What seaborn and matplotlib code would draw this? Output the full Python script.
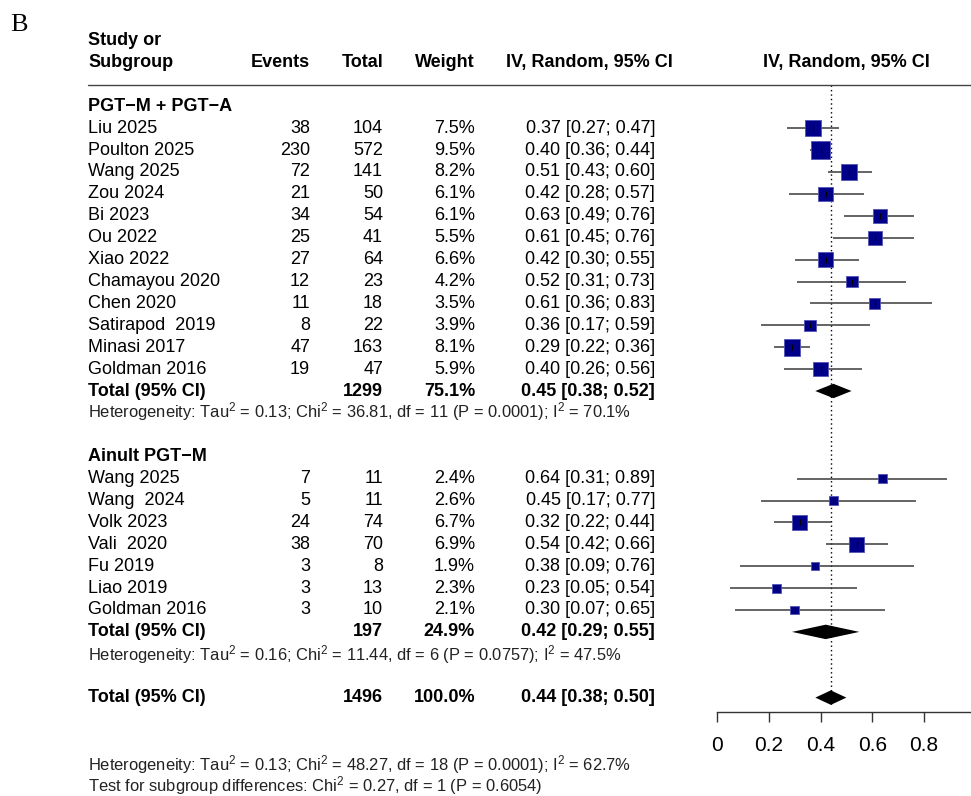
import numpy as np
import pandas as pd
import matplotlib
matplotlib.use("Agg")
import matplotlib.pyplot as plt
import matplotlib.transforms as mtransforms
from matplotlib.lines import Line2D
import seaborn as sns

# ---------------- data ----------------
g1_label = "PGT\u2212M + PGT\u2212A"
g1_study = ["Liu 2025", "Poulton 2025", "Wang 2025", "Zou 2024", "Bi 2023", "Ou 2022",
            "Xiao 2022", "Chamayou 2020", "Chen 2020", "Satirapod  2019", "Minasi 2017",
            "Goldman 2016"]
g1_events = [38, 230, 72, 21, 34, 25, 27, 12, 11, 8, 47, 19]
g1_total = [104, 572, 141, 50, 54, 41, 64, 23, 18, 22, 163, 47]
g1_weight = [7.5, 9.5, 8.2, 6.1, 6.1, 5.5, 6.6, 4.2, 3.5, 3.9, 8.1, 5.9]
g1_est = [0.37, 0.40, 0.51, 0.42, 0.63, 0.61, 0.42, 0.52, 0.61, 0.36, 0.29, 0.40]
g1_lo = [0.27, 0.36, 0.43, 0.28, 0.49, 0.45, 0.30, 0.31, 0.36, 0.17, 0.22, 0.26]
g1_hi = [0.47, 0.44, 0.60, 0.57, 0.76, 0.76, 0.55, 0.73, 0.83, 0.59, 0.36, 0.56]
g1_sum_total = 1299
g1_sum_weight = 75.1
g1_sum_est, g1_sum_lo, g1_sum_hi = 0.45, 0.38, 0.52
g1_het = "Heterogeneity: Tau$^2$ = 0.13; Chi$^2$ = 36.81, df = 11 (P = 0.0001); I$^2$ = 70.1%"

g2_label = "Ainult PGT\u2212M"
g2_study = ["Wang 2025", "Wang  2024", "Volk 2023", "Vali  2020", "Fu 2019", "Liao 2019",
            "Goldman 2016"]
g2_events = [7, 5, 24, 38, 3, 3, 3]
g2_total = [11, 11, 74, 70, 8, 13, 10]
g2_weight = [2.4, 2.6, 6.7, 6.9, 1.9, 2.3, 2.1]
g2_est = [0.64, 0.45, 0.32, 0.54, 0.38, 0.23, 0.30]
g2_lo = [0.31, 0.17, 0.22, 0.42, 0.09, 0.05, 0.07]
g2_hi = [0.89, 0.77, 0.44, 0.66, 0.76, 0.54, 0.65]
g2_sum_total = 197
g2_sum_weight = 24.9
g2_sum_est, g2_sum_lo, g2_sum_hi = 0.42, 0.29, 0.55
g2_het = "Heterogeneity: Tau$^2$ = 0.16; Chi$^2$ = 11.44, df = 6 (P = 0.0757); I$^2$ = 47.5%"

all_sum_total = 1496
all_sum_weight = 100.0
all_sum_est, all_sum_lo, all_sum_hi = 0.44, 0.38, 0.50
all_het = "Heterogeneity: Tau$^2$ = 0.13; Chi$^2$ = 48.27, df = 18 (P = 0.0001); I$^2$ = 62.7%"
subgroup_test = "Test for subgroup differences: Chi$^2$ = 0.27, df = 1 (P = 0.6054)"

x_ticks = [0, 0.2, 0.4, 0.6, 0.8]
x_ticklabels = ["0", "0.2", "0.4", "0.6", "0.8"]

# ---------------- layout rows ----------------
rows1 = list(range(1, 1 + len(g1_study)))
r_tot1 = rows1[-1] + 1
r_het1 = r_tot1 + 1
r_sub2 = r_het1 + 2
rows2 = list(range(r_sub2 + 1, r_sub2 + 1 + len(g2_study)))
r_tot2 = rows2[-1] + 1
r_het2 = r_tot2 + 1
r_all = r_het2 + 2

studies = pd.DataFrame({
    "study": g1_study + g2_study,
    "events": g1_events + g2_events,
    "total": g1_total + g2_total,
    "weight": g1_weight + g2_weight,
    "est": g1_est + g2_est,
    "lo": g1_lo + g2_lo,
    "hi": g1_hi + g2_hi,
    "row": rows1 + rows2,
})

summaries = pd.DataFrame({
    "total": [g1_sum_total, g2_sum_total, all_sum_total],
    "weight": [g1_sum_weight, g2_sum_weight, all_sum_weight],
    "est": [g1_sum_est, g2_sum_est, all_sum_est],
    "lo": [g1_sum_lo, g2_sum_lo, all_sum_lo],
    "hi": [g1_sum_hi, g2_sum_hi, all_sum_hi],
    "row": [r_tot1, r_tot2, r_all],
})

# ---------------- style ----------------
sns.set_theme(style="white")
plt.rcParams["font.family"] = ["Liberation Sans", "DejaVu Sans"]
plt.rcParams["mathtext.fontset"] = "custom"
plt.rcParams["mathtext.rm"] = "Liberation Sans"
plt.rcParams["mathtext.it"] = "Liberation Sans:italic"
plt.rcParams["mathtext.bf"] = "Liberation Sans:bold"

W, H = 971, 796
fig = plt.figure(figsize=(W / 100, H / 100), dpi=100)
fig.patch.set_facecolor("white")

row_px0, row_step = 106.3, 21.9
def px_to_row(p):
    return (p - row_px0) / row_step

ax_top_px, ax_bot_px = 85, 712
ax_left_px = 717
x_max = 0.98
px_per_unit = 258.75
ax = fig.add_axes([ax_left_px / W, 1 - ax_bot_px / H,
                   x_max * px_per_unit / W, (ax_bot_px - ax_top_px) / H])
ax.set_xlim(0, x_max)
ax.set_ylim(px_to_row(ax_bot_px), px_to_row(ax_top_px))
ax.set_facecolor("none")

# CI lines
ax.hlines(studies["row"], studies["lo"], studies["hi"], color="#3a3a3a", lw=1.1, zorder=2)
# squares
sns.scatterplot(data=studies, x="est", y="row", size="weight",
                sizes=(17.7 * min(studies["weight"]), 17.7 * max(studies["weight"])),
                size_norm=(min(studies["weight"]), max(studies["weight"])),
                marker="s", color="#000088", edgecolor="#5555b5", linewidth=0.6,
                legend=False, ax=ax, zorder=3)
# small tick at estimate
ax.scatter(studies["est"], studies["row"], marker="|", s=22, color="black",
           linewidths=0.8, zorder=4)

# diamonds
half_h = 0.33
for _, s in summaries.iterrows():
    ax.fill([s["lo"], s["est"], s["hi"], s["est"]],
            [s["row"], s["row"] - half_h, s["row"], s["row"] + half_h],
            color="black", lw=0, zorder=3)

# reference dotted line at overall estimate
ax.plot([all_sum_est, all_sum_est], [px_to_row(ax_top_px), r_all + 0.35],
        ls=(0, (1, 2.2)), color="black", lw=1.0, zorder=1)

# axis styling
sns.despine(ax=ax, left=True, top=True, right=True)
ax.spines["bottom"].set_color("#333333")
ax.spines["bottom"].set_linewidth(1.0)
ax.set_yticks([])
ax.set_xticks(x_ticks)
ax.set_xticklabels(x_ticklabels)
ax.tick_params(axis="x", direction="out", length=7.5, width=1.0, color="#333333",
               pad=10, labelsize=15, labelcolor="black", bottom=True)
ax.set_xlabel("")
ax.set_ylabel("")

# ---------------- text table ----------------
trans = mtransforms.blended_transform_factory(fig.transFigure, ax.transData)
FS = 13.0
FS_SMALL = 11.9
X_STUDY, X_EVENTS, X_TOTAL, X_WEIGHT, X_CI, X_CIHDR, X_FHDR = 88, 310, 383, 475, 655, 589.5, 846

def t(xpx, row, s, ha="left", bold=False, fs=FS, color="black"):
    ax.text(xpx / W, row, s, transform=trans, ha=ha, va="center", fontsize=fs,
            fontweight="bold" if bold else "normal", color=color, clip_on=False)

# header
t(X_STUDY, px_to_row(40), "Study or", bold=True)
t(X_STUDY, px_to_row(62), "Subgroup", bold=True)
t(X_EVENTS, px_to_row(62), "Events", ha="right", bold=True)
t(X_TOTAL, px_to_row(62), "Total", ha="right", bold=True)
t(X_WEIGHT, px_to_row(62), "Weight", ha="right", bold=True)
t(X_CIHDR, px_to_row(62), "IV, Random, 95% CI", ha="center", bold=True)
t(X_FHDR, px_to_row(62), "IV, Random, 95% CI", ha="center", bold=True)
fig.add_artist(Line2D([X_STUDY / W, 1.0], [1 - ax_top_px / H, 1 - ax_top_px / H],
                      color="#444444", lw=1.0, transform=fig.transFigure))

# subgroup labels
t(X_STUDY, 0, g1_label, bold=True)
t(X_STUDY, r_sub2, g2_label, bold=True)

for _, s in studies.iterrows():
    t(X_STUDY, s["row"], s["study"])
    t(X_EVENTS, s["row"], f"{int(s['events'])}", ha="right")
    t(X_TOTAL, s["row"], f"{int(s['total'])}", ha="right")
    t(X_WEIGHT, s["row"], f"{s['weight']:.1f}%", ha="right")
    t(X_CI, s["row"], f"{s['est']:.2f} [{s['lo']:.2f}; {s['hi']:.2f}]", ha="right")

for _, s in summaries.iterrows():
    t(X_STUDY, s["row"], "Total (95% CI)", bold=True)
    t(X_TOTAL, s["row"], f"{int(s['total'])}", ha="right", bold=True)
    t(X_WEIGHT, s["row"], f"{s['weight']:.1f}%", ha="right", bold=True)
    t(X_CI, s["row"], f"{s['est']:.2f} [{s['lo']:.2f}; {s['hi']:.2f}]", ha="right", bold=True)

HET_COL = "#222222"
t(X_STUDY, r_het1 - 0.05, g1_het, fs=FS_SMALL, color=HET_COL)
t(X_STUDY, r_het2 + 0.05, g2_het, fs=FS_SMALL, color=HET_COL)
t(X_STUDY, px_to_row(765), all_het, fs=FS_SMALL, color=HET_COL)
t(X_STUDY, px_to_row(786), subgroup_test, fs=FS_SMALL, color=HET_COL)

# panel letter
fig.text(10 / W, 1 - 25 / H, "B", fontsize=19, family=["Liberation Serif", "DejaVu Serif"],
         ha="left", va="center", color="black")

fig.savefig("out.png", dpi=100, facecolor="white")
